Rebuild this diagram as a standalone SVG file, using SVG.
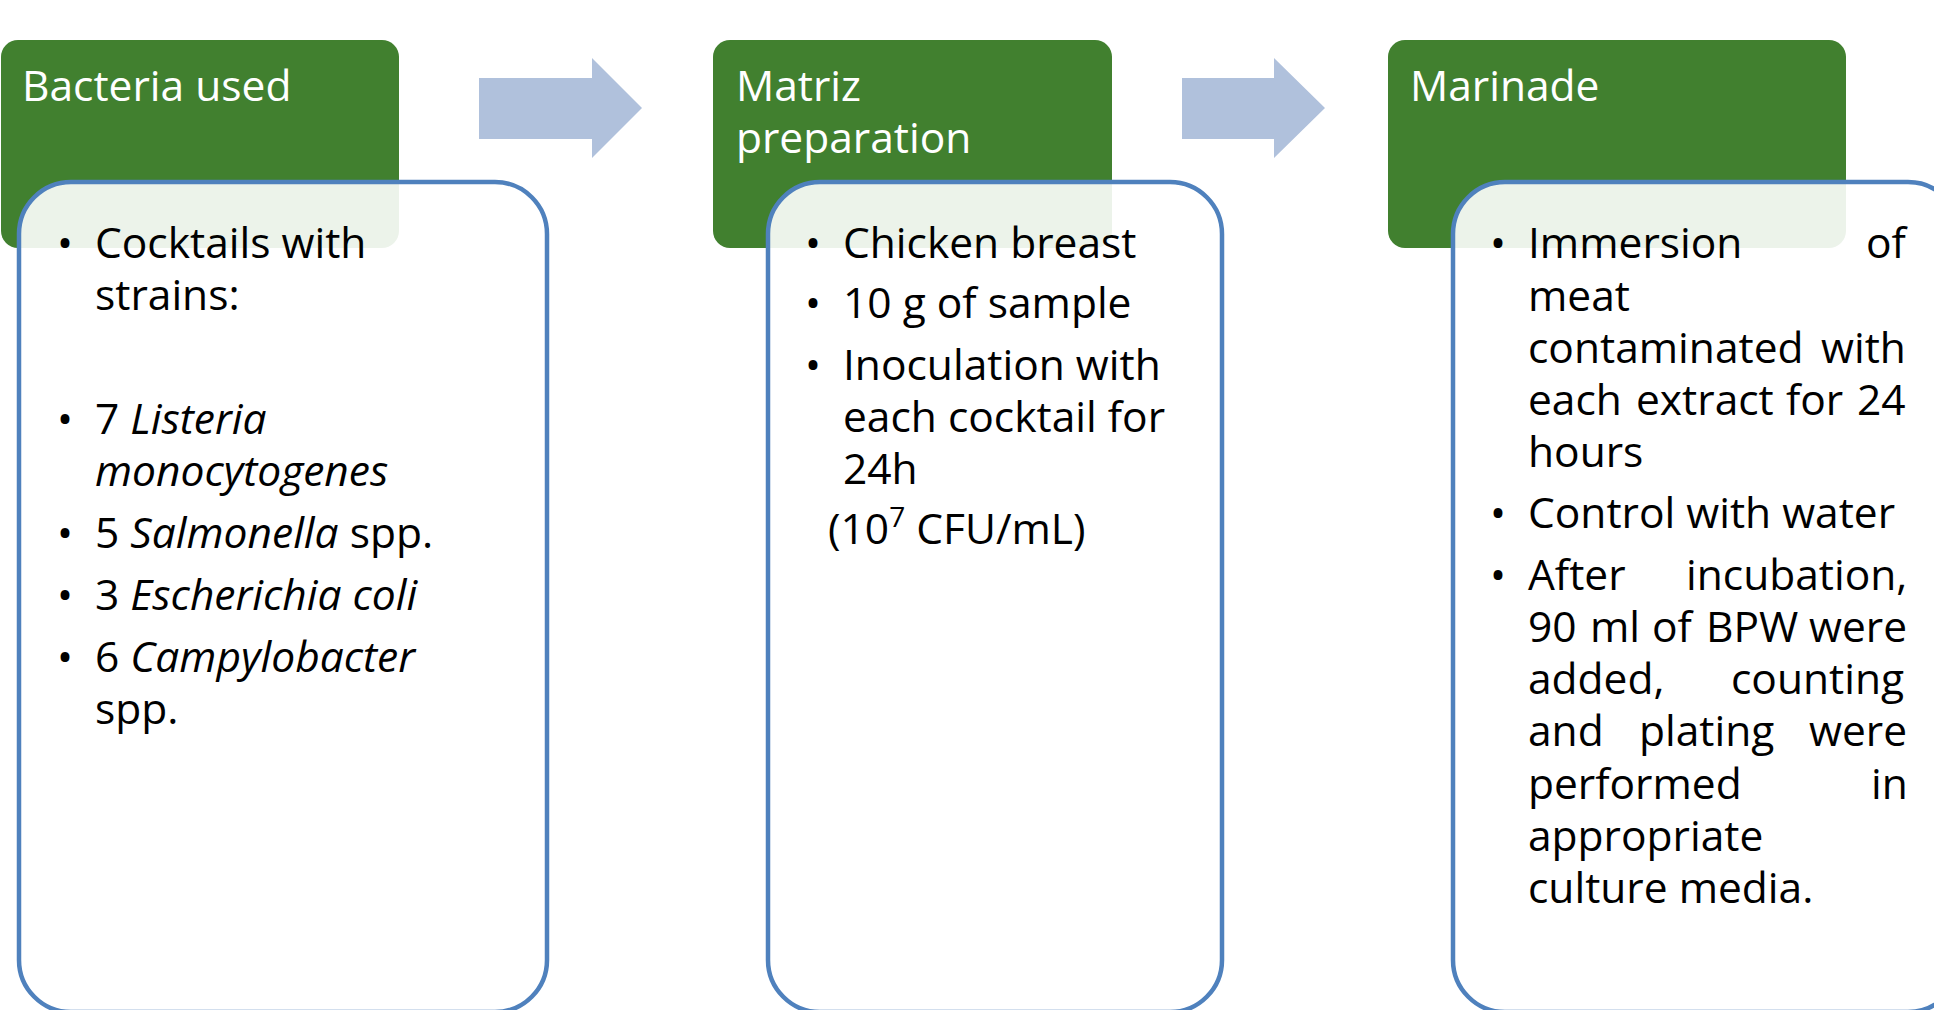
<svg xmlns="http://www.w3.org/2000/svg" width="1934" height="1010" viewBox="0 0 1934 1010">
<style>
  .hdr { fill: #41802f; }
  .card { fill: #ffffff; fill-opacity: 0.9; stroke: #4f81bd; stroke-width: 4.5; }
  .arrow { fill: #b0c1dc; }
  .title { font-family: "Open Sans", "Noto Sans", sans-serif; font-size: 42.5px; fill: #ffffff; }
  .body { font-family: "Open Sans", "Noto Sans", sans-serif; font-size: 42.5px; fill: #000000; }
  .bul { font-family: "Open Sans", "Noto Sans", sans-serif; font-size: 42.5px; fill: #000000; text-anchor: middle; }
  .it { font-style: italic; }
</style>
<rect width="1934" height="1010" fill="#ffffff"/>

<g id="connectors">
  <polygon class="arrow" points="479,78 592,78 592,58 642,108 592,158 592,139 479,139"/>
  <polygon class="arrow" points="1182,78 1274,78 1274,58 1325,108 1274,158 1274,139 1182,139"/>
</g>

<g id="node-bacteria">
  <rect class="hdr" x="1" y="40" width="398" height="208" rx="17"/>
  <text class="title" x="22" y="101">Bacteria used</text>
  <rect class="card" x="19" y="182" width="528" height="830" rx="52"/>
  <text class="bul" x="65" y="258">•</text>
  <text class="body" x="95" y="258">Cocktails with</text>
  <text class="body" x="95" y="310">strains:</text>
  <text class="bul" x="65" y="434">•</text>
  <text class="body" x="95" y="434">7 <tspan class="it">Listeria</tspan></text>
  <text class="body it" x="95" y="486">monocytogenes</text>
  <text class="bul" x="65" y="548">•</text>
  <text class="body" x="95" y="548">5 <tspan class="it">Salmonella</tspan> spp.</text>
  <text class="bul" x="65" y="610">•</text>
  <text class="body" x="95" y="610">3 <tspan class="it">Escherichia coli</tspan></text>
  <text class="bul" x="65" y="672">•</text>
  <text class="body" x="95" y="672">6 <tspan class="it">Campylobacter</tspan></text>
  <text class="body" x="95" y="724">spp.</text>
</g>

<g id="node-matriz">
  <rect class="hdr" x="713" y="40" width="399" height="208" rx="17"/>
  <text class="title" x="736" y="101">Matriz</text>
  <text class="title" x="736" y="153">preparation</text>
  <rect class="card" x="768" y="182" width="454" height="830" rx="52"/>
  <text class="bul" x="813" y="258">•</text>
  <text class="body" x="843" y="258">Chicken breast</text>
  <text class="bul" x="813" y="318">•</text>
  <text class="body" x="843" y="318">10 g of sample</text>
  <text class="bul" x="813" y="380">•</text>
  <text class="body" x="843" y="380">Inoculation with</text>
  <text class="body" x="843" y="432">each cocktail for</text>
  <text class="body" x="843" y="484">24h</text>
  <text class="body" x="828" y="544">(10<tspan font-size="28" dy="-17">7</tspan><tspan dy="17"> CFU/mL)</tspan></text>
</g>

<g id="node-marinade">
  <rect class="hdr" x="1388" y="40" width="458" height="208" rx="17"/>
  <text class="title" x="1410" y="101">Marinade</text>
  <rect class="card" x="1453" y="182" width="507" height="830" rx="52"/>
  <text class="bul" x="1498" y="258">•</text>
  <text class="body" y="258"><tspan x="1528">Immersion</tspan><tspan x="1866">of</tspan></text>
  <text class="body" x="1528" y="311">meat</text>
  <text class="body" y="363"><tspan x="1528">contaminated</tspan><tspan x="1821">with</tspan></text>
  <text class="body" y="415"><tspan x="1528">each</tspan><tspan x="1636">extract</tspan><tspan x="1786">for</tspan><tspan x="1857">24</tspan></text>
  <text class="body" x="1528" y="467">hours</text>
  <text class="bul" x="1498" y="528">•</text>
  <text class="body" x="1528" y="528">Control with water</text>
  <text class="bul" x="1498" y="590">•</text>
  <text class="body" y="590"><tspan x="1528">After</tspan><tspan x="1686">incubation,</tspan></text>
  <text class="body" y="642"><tspan x="1528">90</tspan><tspan x="1590">ml</tspan><tspan x="1652">of</tspan><tspan x="1706">BPW</tspan><tspan x="1809">were</tspan></text>
  <text class="body" y="694"><tspan x="1528">added,</tspan><tspan x="1731">counting</tspan></text>
  <text class="body" y="746"><tspan x="1528">and</tspan><tspan x="1639">plating</tspan><tspan x="1809">were</tspan></text>
  <text class="body" y="799"><tspan x="1528">performed</tspan><tspan x="1871">in</tspan></text>
  <text class="body" x="1528" y="851">appropriate</text>
  <text class="body" x="1528" y="903">culture media.</text>
</g>
</svg>
